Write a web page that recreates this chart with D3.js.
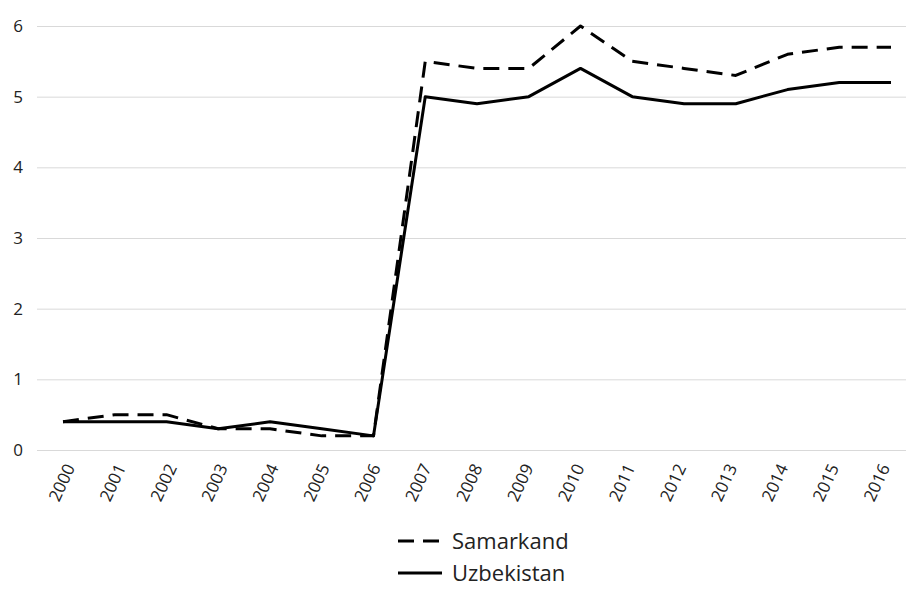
<!DOCTYPE html>
<html>
<head>
<meta charset="utf-8">
<script src="https://cdn.jsdelivr.net/npm/d3@7"></script>
<style>
  body { margin: 0; background: #fff; }
  text { font-family: "Open Sans", "Noto Sans", sans-serif; fill: #222; }
</style>
</head>
<body>
<svg id="chart" width="906" height="590"></svg>
<script>
var years = ["2000","2001","2002","2003","2004","2005","2006","2007","2008",
             "2009","2010","2011","2012","2013","2014","2015","2016"];
var samarkand  = [0.4,0.5,0.5,0.3,0.3,0.2,0.2,5.5,5.4,5.4,6.0,5.5,5.4,5.3,5.6,5.7,5.7];
var uzbekistan = [0.4,0.4,0.4,0.3,0.4,0.3,0.2,5.0,4.9,5.0,5.4,5.0,4.9,4.9,5.1,5.2,5.2];
var yTicks = [0,1,2,3,4,5,6];

var series = [
  { name: "Samarkand",  values: samarkand,  dash: "16,9" },
  { name: "Uzbekistan", values: uzbekistan, dash: null }
];

var svg = d3.select("#chart");
var W = 906, H = 590;

var x = d3.scalePoint().domain(years).range([63, 891]);
// tick labels sit on a slightly tighter spacing than the points
var xLab = d3.scalePoint().domain(years).range([73, 888]);
var y = d3.scaleLinear().domain([0, 6]).range([450, 26]);

// horizontal grid
svg.append("g")
  .attr("class", "grid")
  .attr("transform", "translate(37,0)")
  .call(d3.axisLeft(y).tickValues(yTicks).tickSize(-(W - 37)).tickFormat(""))
  .call(function(g){
    g.select(".domain").remove();
    g.selectAll("line").attr("stroke", "#d9d9d9").attr("stroke-width", 1);
  });

// y labels
svg.append("g")
  .selectAll("text")
  .data(yTicks).enter()
  .append("text")
  .attr("x", 23)
  .attr("y", function(d){ return y(d); })
  .attr("dy", "0.35em")
  .attr("text-anchor", "end")
  .attr("font-size", 17)
  .text(function(d){ return d; });

// x labels, rotated
svg.append("g")
  .selectAll("text")
  .data(years).enter()
  .append("text")
  .attr("transform", function(d){ return "translate(" + (xLab(d) - 3) + ",465) rotate(-65)"; })
  .attr("text-anchor", "end")
  .attr("dy", "0.35em")
  .attr("font-size", 17)
  .text(function(d){ return d; });

var line = d3.line()
  .x(function(d, i){ return x(years[i]); })
  .y(function(d){ return y(d); });

svg.append("g")
  .selectAll("path")
  .data(series).enter()
  .append("path")
  .attr("d", function(d){ return line(d.values); })
  .attr("fill", "none")
  .attr("stroke", "#000")
  .attr("stroke-width", 3)
  .attr("stroke-linejoin", "round")
  .attr("stroke-dasharray", function(d){ return d.dash; });

// legend
var leg = svg.append("g")
  .selectAll("g")
  .data(series).enter()
  .append("g")
  .attr("transform", function(d, i){ return "translate(398," + (541 + i * 32) + ")"; });

leg.append("line")
  .attr("x1", 0).attr("x2", 44)
  .attr("stroke", "#000")
  .attr("stroke-width", 3)
  .attr("stroke-dasharray", function(d){ return d.dash; });

leg.append("text")
  .attr("x", 54)
  .attr("dy", "0.35em")
  .attr("font-size", 22)
  .text(function(d){ return d.name; });
</script>
</body>
</html>
